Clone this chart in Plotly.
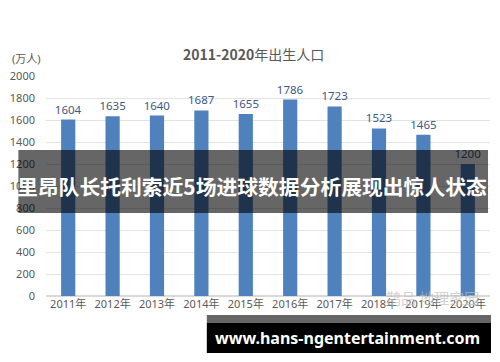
import plotly.graph_objects as go

years = ["2011年", "2012年", "2013年", "2014年", "2015年", "2016年", "2017年", "2018年", "2019年", "2020年"]
births = [1604, 1635, 1640, 1687, 1655, 1786, 1723, 1523, 1465, 1200]
y_ticks = [0, 200, 400, 600, 800, 1000, 1200, 1400, 1600, 1800, 2000]

title_text = "<b>2011-2020</b>年出生人口"
unit_text = "(万人)"
band_text = "里昂队长托利索近5场进球数据分析展现出惊人状态"
url_text = "www.hans-ngentertainment.com"
watermark_text = "鹊品 地理家园"

W, H = 500, 362
L, R, T, B = 40, 10, 76, 66
pw, ph = W - L - R, H - T - B

def px(x):
    return (x - L) / pw

def py(y):
    return (H - B - y) / ph

base_font = "Noto Sans, Noto Sans CJK SC, sans-serif"

fig = go.Figure()
fig.add_trace(go.Bar(
    x=years, y=births,
    marker=dict(color="#4f81bd", line=dict(width=0)),
    text=[str(v) for v in births],
    textposition="outside",
    constraintext="none",
    textfont=dict(color="#3d5a85", size=11.5, family=base_font),
    cliponaxis=False,
))

fig.update_layout(
    width=W, height=H,
    margin=dict(l=L, r=R, t=T, b=B),
    paper_bgcolor="white", plot_bgcolor="white",
    bargap=0.68,
    showlegend=False,
    font=dict(family=base_font, color="#595959", size=11),
    xaxis=dict(showgrid=False, showline=False, ticks="", tickfont=dict(size=11, color="#595959"),
               fixedrange=True),
    yaxis=dict(range=[0, 2000], tickvals=y_ticks, ticktext=[str(v) for v in y_ticks],
               gridcolor="#e3e3e3", gridwidth=1, zeroline=True, zerolinecolor="#d9d9d9",
               showline=False, ticks="", ticklabelstandoff=10,
               tickfont=dict(size=11, color="#595959")),
    shapes=[
        dict(type="rect", xref="paper", yref="paper", layer="above",
             x0=px(12), x1=px(488), y0=py(213), y1=py(150),
             fillcolor="rgba(0,0,0,0.6)", line=dict(width=0)),
        dict(type="rect", xref="paper", yref="paper", layer="above",
             x0=px(203), x1=px(491), y0=py(323), y1=py(315),
             fillcolor="#666666", line=dict(width=0)),
        dict(type="rect", xref="paper", yref="paper", layer="above",
             x0=px(203), x1=px(491), y0=py(353), y1=py(323),
             fillcolor="#000000", line=dict(width=0)),
    ],
    annotations=[
        dict(text=title_text, xref="paper", yref="paper", x=px(250), y=py(54),
             showarrow=False, xanchor="center", yanchor="middle",
             font=dict(size=14, color="#595959", family="Noto Sans CJK SC, sans-serif")),
        dict(text=unit_text, xref="paper", yref="paper", x=px(4), y=py(58),
             showarrow=False, xanchor="left", yanchor="middle",
             font=dict(size=11, color="#595959")),
        dict(text=watermark_text, xref="paper", yref="paper", x=px(432), y=py(297),
             showarrow=False, xanchor="center", yanchor="middle",
             font=dict(size=15, color="rgba(190,190,190,0.7)", family="Noto Sans CJK SC")),
        dict(text="<b>" + band_text + "</b>", xref="paper", yref="paper", x=px(249), y=py(186),
             showarrow=False, xanchor="center", yanchor="middle",
             font=dict(size=20.8, color="white", family="Noto Sans CJK SC, sans-serif")),
        dict(text="<b>" + url_text + "</b>", xref="paper", yref="paper", x=px(346), y=py(338),
             showarrow=False, xanchor="center", yanchor="middle",
             font=dict(size=16, color="white", family="Noto Sans, DejaVu Sans, sans-serif")),
    ],
)

fig.write_html("out.html")
